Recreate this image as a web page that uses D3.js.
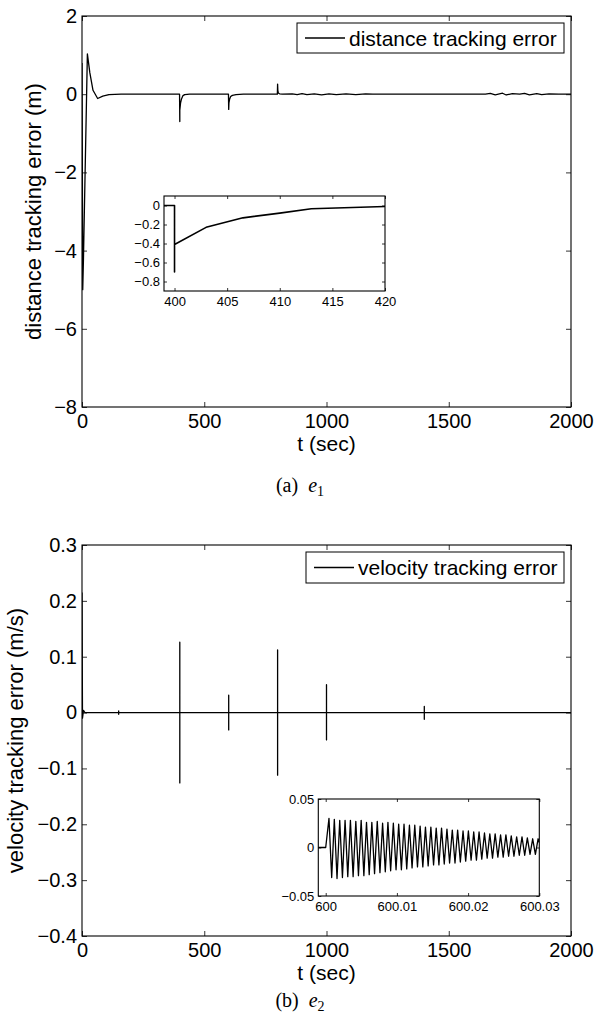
<!DOCTYPE html>
<html>
<head>
<meta charset="utf-8">
<script src="https://cdn.jsdelivr.net/npm/d3@7"></script>
<style>
  body { margin: 0; background: #fff; }
  text { font-family: "Liberation Sans", Arial, sans-serif; }
</style>
</head>
<body>
<div id="fig"></div>
<script>
// ---- data ----
var x_ticks = [0, 500, 1000, 1500, 2000];

// (a) distance tracking error e1, [t, value]
var e1_points = [
  [0, 0.8], [3, -5], [6, -4.2], [22, 1.03], [32, 0.55], [45, 0.1], [64, -0.11], [85, -0.05],
  [110, -0.01], [160, 0], [260, 0], [399, 0], [400, -0.7], [400, -0.41], [403, -0.23],
  [406.5, -0.13], [410, -0.08], [413, -0.035], [420, -0.01], [440, 0], [598, 0],
  [599, 0], [600, -0.39], [601, -0.22], [604, -0.12], [608, -0.06], [615, -0.03],
  [630, -0.01], [660, 0], [799, 0], [800, 0.26], [801, 0.1], [803, 0.03], [808, 0.01],
  [820, 0], [860, 0.01], [880, -0.01], [900, 0.015], [920, -0.01], [950, 0.01],
  [980, -0.015], [1010, 0.01], [1040, -0.01], [1080, 0.01], [1120, -0.01],
  [1160, 0.01], [1190, 0], [1400, 0], [1650, 0], [1670, 0.02], [1690, -0.015],
  [1720, 0.025], [1735, -0.02], [1760, 0.015], [1790, 0], [1810, 0.02], [1830, -0.015],
  [1860, 0.015], [1880, -0.01], [1910, 0.01], [1950, 0], [2000, 0]
];
var e1_y_ticks = [2, 0, -2, -4, -6, -8];

// inset of (a): 399 .. 420 s
var e1_zoom = [
  [399, 0], [400, 0], [400, -0.7], [400, -0.41], [403, -0.23], [406.5, -0.13],
  [410, -0.08], [413, -0.035], [420, -0.01]
];
var e1_zoom_x_ticks = [400, 405, 410, 415, 420];
var e1_zoom_y_ticks = [0, -0.2, -0.4, -0.6, -0.8];

// (b) velocity tracking error e2
var e2_start = [[0, 0.215], [2, -0.01], [6, 0.004], [12, 0], [150, 0], [150, 0.003], [150, -0.003], [150, 0]];
var spike_t  = [400, 600, 800, 1000, 1400];
var spike_hi = [0.126, 0.031, 0.112, 0.05, 0.011];
var spike_lo = [-0.126, -0.031, -0.112, -0.049, -0.012];
var e2_y_ticks = [0.3, 0.2, 0.1, 0, -0.1, -0.2, -0.3, -0.4];

// inset of (b): time in units of 1e-4 s after t = 600
var e2_zoom = [
  [-11, 0], [0, 0],
  [4.6, .030], [8.4, -.031], [12.1, .029], [15.9, -.032], [19.7, .028], [23.5, -.031],
  [27.2, .028], [31.0, -.030], [34.7, .028], [38.5, -.030], [42.3, .027], [46.0, -.029],
  [49.8, .028], [53.6, -.029], [57.3, .026], [61.1, -.028], [64.8, .026], [68.6, -.027],
  [72.4, .027], [76.2, -.026], [79.9, .025], [83.7, -.025], [87.4, .026], [91.2, -.024],
  [95.0, .025], [98.8, -.023], [102.5, .024], [106.3, -.023], [110.0, .024], [113.8, -.022],
  [117.6, .023], [121.3, -.021], [125.1, .023], [128.9, -.020], [132.6, .022], [136.4, -.020],
  [140.1, .021], [143.9, -.019], [147.7, .021], [151.5, -.018], [155.2, .020], [159.0, -.018],
  [162.7, .020], [166.5, -.017], [170.3, .019], [174.0, -.016], [177.8, .018], [181.6, -.016],
  [185.3, .018], [189.1, -.015], [192.9, .017], [196.6, -.014], [200.4, .017], [204.2, -.013],
  [207.9, .016], [211.7, -.013], [215.4, .016], [219.2, -.012], [223.0, .015], [226.8, -.011],
  [230.5, .014], [234.3, -.011], [238.0, .014], [241.8, -.010], [245.6, .013], [249.3, -.010],
  [253.1, .013], [256.9, -.009], [260.6, .012], [264.4, -.009], [268.2, .011], [271.9, -.008],
  [275.7, .011], [279.5, -.008], [283.2, .010], [287.0, -.007], [290.7, .009], [294.5, -.007],
  [298.3, .009], [300, .005]
];
var e2_zoom_x_ticks = [600, 600.01, 600.02, 600.03];
var e2_zoom_y_ticks = [0.05, 0, -0.05];

// ---- drawing ----
var svg = d3.select('#fig').append('svg')
    .attr('width', 595)
    .attr('height', 1027);

var minus = function(s) { return s.replace('-', '\u2212'); };

function draw_axes(g, x, y, xt, yt, fx, fy, o) {
  var x0 = x.range()[0], x1 = x.range()[1],
      y0 = y.range()[1], y1 = y.range()[0];

  var gb = g.append('g').attr('transform', 'translate(0,' + y1 + ')')
    .call(d3.axisBottom(x).tickValues(xt).tickSize(-o.tick).tickPadding(o.padx).tickFormat(fx));
  var gt = g.append('g').attr('transform', 'translate(0,' + y0 + ')')
    .call(d3.axisTop(x).tickValues(xt).tickSize(-o.tick).tickFormat(''));
  var gl = g.append('g').attr('transform', 'translate(' + x0 + ',0)')
    .call(d3.axisLeft(y).tickValues(yt).tickSize(-o.tick).tickPadding(o.pady).tickFormat(fy));
  var gr = g.append('g').attr('transform', 'translate(' + x1 + ',0)')
    .call(d3.axisRight(y).tickValues(yt).tickSize(-o.tick).tickFormat(''));

  [gb, gt, gl, gr].forEach(function(a) {
    a.select('.domain').remove();
    a.attr('font-family', '"Liberation Sans", Arial, sans-serif')
     .attr('font-size', o.font);
    a.selectAll('line').attr('stroke', '#000').attr('stroke-width', 0.8);
    a.selectAll('text').attr('fill', '#000');
  });

  g.append('rect')
    .attr('x', x0).attr('y', y0)
    .attr('width', x1 - x0).attr('height', y1 - y0)
    .attr('fill', 'none')
    .attr('stroke', '#000')
    .attr('stroke-width', o.box);
}

function draw_line(g, pts, x, y, id, w) {
  var x0 = x.range()[0], x1 = x.range()[1],
      y0 = y.range()[1], y1 = y.range()[0];
  svg.append('clipPath').attr('id', id)
    .append('rect').attr('x', x0).attr('y', y0).attr('width', x1 - x0).attr('height', y1 - y0);
  g.append('path')
    .datum(pts)
    .attr('clip-path', 'url(#' + id + ')')
    .attr('fill', 'none')
    .attr('stroke', '#000')
    .attr('stroke-width', w)
    .attr('stroke-linejoin', 'round')
    .attr('d', d3.line().x(function(d) { return x(d[0]); }).y(function(d) { return y(d[1]); }));
}

function draw_legend(g, bx, by, bw, bh, label) {
  g.append('rect')
    .attr('x', bx).attr('y', by).attr('width', bw).attr('height', bh)
    .attr('fill', '#fff').attr('stroke', '#000').attr('stroke-width', 1);
  g.append('line')
    .attr('x1', bx + 8).attr('x2', bx + 48)
    .attr('y1', by + bh / 2).attr('y2', by + bh / 2)
    .attr('stroke', '#000').attr('stroke-width', 1.3);
  g.append('text')
    .attr('x', bx + 52).attr('y', by + bh / 2 + 7.5)
    .attr('font-size', 21)
    .text(label);
}

function draw_caption(g, cx, cy, letter, sub) {
  var t = g.append('text')
    .attr('x', cx).attr('y', cy)
    .attr('text-anchor', 'middle')
    .style('font-family', '"Liberation Serif", "Times New Roman", serif')
    .attr('font-size', 20);
  t.append('tspan').text('(' + letter + ')\u2002');
  t.append('tspan').attr('font-style', 'italic').text('e');
  t.append('tspan').attr('font-size', 14).attr('dy', 4).text(sub);
}

var main_opts = {tick: 5, padx: 7, pady: 5, font: 20, box: 1.1};
var inset_opts = {tick: 3, padx: 6, pady: 4, font: 13, box: 1.1};

// ---------- panel (a) ----------
var ga = svg.append('g');
var xa = d3.scaleLinear().domain([0, 2000]).range([82, 571]);
var ya = d3.scaleLinear().domain([-8, 2]).range([407, 16]);

draw_axes(ga, xa, ya, x_ticks, e1_y_ticks, d3.format('d'),
  function(d) { return minus(String(d)); }, main_opts);
draw_line(ga, e1_points, xa, ya, 'clip-a', 1.3);
draw_legend(ga, 297, 23, 267, 30, 'distance tracking error');

ga.append('text')
  .attr('transform', 'translate(41,' + (16 + 407) / 2 + ') rotate(-90)')
  .attr('text-anchor', 'middle')
  .attr('font-size', 22)
  .text('distance tracking error (m)');
ga.append('text')
  .attr('x', (82 + 571) / 2).attr('y', 451)
  .attr('text-anchor', 'middle')
  .attr('font-size', 21)
  .text('t (sec)');

// inset (a)
var xia = d3.scaleLinear().domain([399, 420]).range([164, 385]);
var yia = d3.scaleLinear().domain([-0.9, 0.1]).range([291, 196]);
ga.append('rect').attr('x', 164).attr('y', 196).attr('width', 221).attr('height', 95).attr('fill', '#fff');
draw_axes(ga, xia, yia, e1_zoom_x_ticks, e1_zoom_y_ticks, d3.format('d'),
  function(d) { return d === 0 ? '0' : minus(d3.format('.1f')(d)); }, inset_opts);
draw_line(ga, e1_zoom, xia, yia, 'clip-ia', 1.6);

draw_caption(ga, 300, 492, 'a', '1');

// ---------- panel (b) ----------
var gb = svg.append('g');
var xb = d3.scaleLinear().domain([0, 2000]).range([82, 571]);
var yb = d3.scaleLinear().domain([-0.4, 0.3]).range([936, 545]);

var e2_points = e2_start.slice();
spike_t.forEach(function(t, i) {
  e2_points.push([t, 0], [t, spike_hi[i]], [t, spike_lo[i]], [t, 0]);
});
e2_points.push([2000, 0]);

draw_axes(gb, xb, yb, x_ticks, e2_y_ticks, d3.format('d'),
  function(d) { return d === 0 ? '0' : minus(d3.format('.1f')(d)); }, main_opts);
draw_line(gb, e2_points, xb, yb, 'clip-b', 1.3);
draw_legend(gb, 306, 552, 258, 31, 'velocity tracking error');

gb.append('text')
  .attr('transform', 'translate(23,' + (545 + 936) / 2 + ') rotate(-90)')
  .attr('text-anchor', 'middle')
  .attr('font-size', 22)
  .text('velocity tracking error (m/s)');
gb.append('text')
  .attr('x', (82 + 571) / 2).attr('y', 980)
  .attr('text-anchor', 'middle')
  .attr('font-size', 21)
  .text('t (sec)');

// inset (b)
var xib = d3.scaleLinear().domain([600 - 0.00104, 600.03]).range([318.3, 539.3]);
var yib = d3.scaleLinear().domain([-0.05, 0.05]).range([896, 799]);
gb.append('rect').attr('x', 318.3).attr('y', 799).attr('width', 221).attr('height', 97).attr('fill', '#fff');
draw_axes(gb, xib, yib, e2_zoom_x_ticks, e2_zoom_y_ticks,
  function(d) { return d === 600 ? '600' : d3.format('.2f')(d); },
  function(d) { return d === 0 ? '0' : minus(d3.format('.2f')(d)); }, inset_opts);
draw_line(gb, e2_zoom.map(function(d) { return [600 + d[0] * 1e-4, d[1]]; }), xib, yib, 'clip-ib', 1.3);

draw_caption(gb, 300, 1007, 'b', '2');
</script>
</body>
</html>
